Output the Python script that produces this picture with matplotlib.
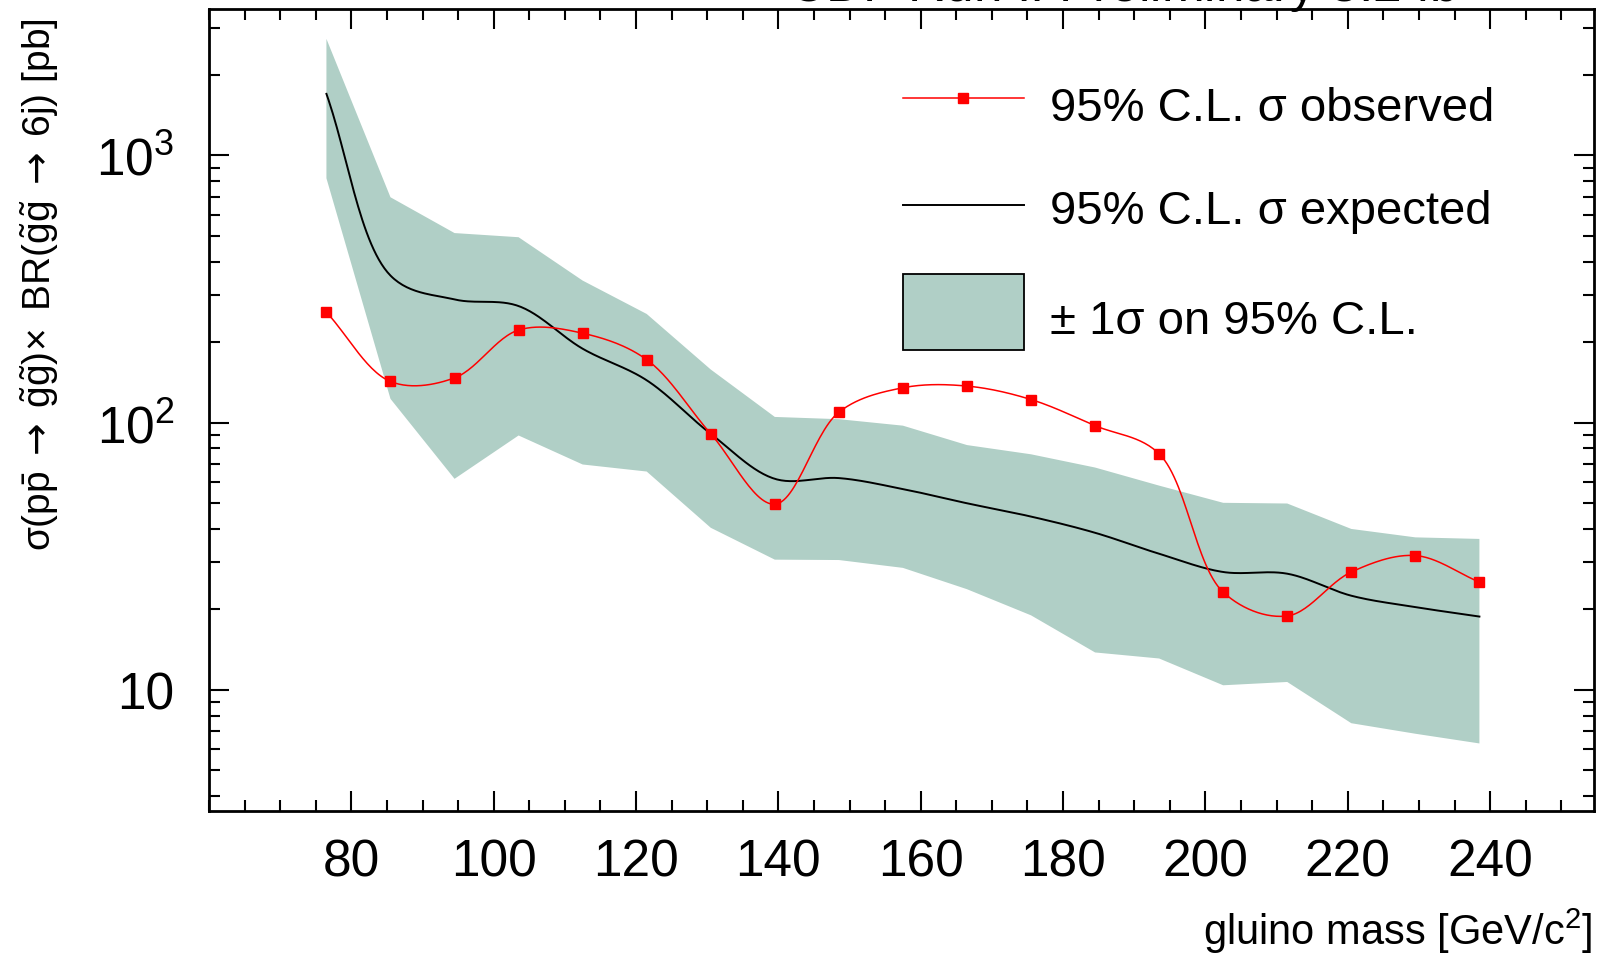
import numpy as np
import matplotlib
matplotlib.use("Agg")
import matplotlib.pyplot as plt
from matplotlib.lines import Line2D
from matplotlib.patches import Rectangle
from matplotlib.ticker import FixedLocator, MultipleLocator, LogLocator, FuncFormatter, NullFormatter

plt.rcParams['font.family'] = ['Liberation Sans', 'DejaVu Sans']
plt.rcParams['mathtext.fontset'] = 'custom'
plt.rcParams['mathtext.rm'] = 'Liberation Sans'
plt.rcParams['mathtext.it'] = 'Liberation Sans'
plt.rcParams['mathtext.sf'] = 'DejaVu Sans'
plt.rcParams['mathtext.bf'] = 'Liberation Sans:bold'

# gluino mass points [GeV/c^2] and 95% C.L. cross-section limits [pb]
gluino_mass = [76.5, 85.5, 94.5, 103.5, 112.5, 121.5, 130.5, 139.5, 148.5, 157.5,
               166.5, 175.5, 184.5, 193.5, 202.5, 211.5, 220.5, 229.5, 238.5]
sigma_observed = [259, 142.5, 147, 222, 216, 172, 90.8, 49.5, 109.4, 135,
                  137, 122, 97.4, 76.4, 23.2, 18.9, 27.6, 31.8, 25.3]
sigma_expected = [1699, 355, 289, 273, 189, 144, 90.8, 61.6, 62, 56.4,
                  49.9, 44.5, 38.7, 32.3, 27.6, 27.2, 22.5, 20.4, 18.8]
sigma_plus1 = [2729, 697, 512, 494, 340, 255, 158, 105, 103, 97.4,
               82.4, 76.1, 67.9, 58.1, 50.1, 49.8, 40.0, 37.2, 36.7]
sigma_minus1 = [821, 122.7, 61.6, 89.5, 69.7, 65.6, 40.4, 30.7, 30.6, 28.6,
                23.8, 19.0, 13.8, 13.1, 10.4, 10.7, 7.5, 6.85, 6.3]

x_ticks = [80, 100, 120, 140, 160, 180, 200, 220, 240]
y_tick_text = {10: '10', 100: r'$10^{2}$', 1000: r'$10^{3}$'}

legend_labels = ['95% C.L. σ observed', '95% C.L. σ expected', '± 1σ on 95% C.L.']
title_text = r'CDF Run II Preliminary 3.2 fb$^{-1}$'
x_title = r'gluino mass [GeV/c$^{2}$]'
y_title = (r'$\sigma(p\bar{p}\;\mathsf{\rightarrow}\;\tilde{g}\tilde{g})\!\times$ '
           r'BR$(\tilde{g}\tilde{g}\;\mathsf{\rightarrow}\;$6j) [pb]')

BAND = '#b0cfc6'
W, H = 1601, 954


def fx(px):
    return px / W


def fy(py):
    return 1 - py / H


def catmull_rom(P, n=30, alpha=0.5):
    P = np.asarray(P, dtype=float)
    Q = np.vstack([2 * P[0] - P[1], P, 2 * P[-1] - P[-2]])
    out = [P[0]]
    for i in range(1, len(Q) - 2):
        a, b, c, d = Q[i - 1], Q[i], Q[i + 1], Q[i + 2]
        t0 = 0.0
        t1 = t0 + max(np.linalg.norm(b - a), 1e-6) ** alpha
        t2 = t1 + max(np.linalg.norm(c - b), 1e-6) ** alpha
        t3 = t2 + max(np.linalg.norm(d - c), 1e-6) ** alpha
        t = np.linspace(t1, t2, n)[1:, None]
        A1 = (t1 - t) / (t1 - t0) * a + (t - t0) / (t1 - t0) * b
        A2 = (t2 - t) / (t2 - t1) * b + (t - t1) / (t2 - t1) * c
        A3 = (t3 - t) / (t3 - t2) * c + (t - t2) / (t3 - t2) * d
        B1 = (t2 - t) / (t2 - t0) * A1 + (t - t0) / (t2 - t0) * A2
        B2 = (t3 - t) / (t3 - t1) * A2 + (t - t1) / (t3 - t1) * A3
        C = (t2 - t) / (t2 - t1) * B1 + (t - t1) / (t2 - t1) * B2
        out.extend(C)
    return np.array(out)


def smooth_curve(ax, x, y):
    # spline drawn in screen space, like a graph drawn with a smooth option
    pts = ax.transData.transform(np.column_stack([x, y]))
    sm = catmull_rom(pts)
    back = ax.transData.inverted().transform(sm)
    return back[:, 0], back[:, 1]


fig = plt.figure(figsize=(W / 100, H / 100), dpi=100)
ax = fig.add_axes([fx(209), fy(812), fx(1594) - fx(209), fy(10) - fy(812)])
ax.set_yscale('log')
ax.set_xlim(60, 254.6)
ax.set_ylim(3.52, 3530)

# +-1 sigma band
ax.fill_between(gluino_mass, sigma_minus1, sigma_plus1, facecolor=BAND,
                edgecolor='none', linewidth=0, zorder=1)

ex, ey = smooth_curve(ax, gluino_mass, sigma_expected)
ax.plot(ex, ey, color='black', lw=1.4, zorder=2)

ox, oy = smooth_curve(ax, gluino_mass, sigma_observed)
ax.plot(ox, oy, color='red', lw=1.1, zorder=3)
ax.plot(gluino_mass, sigma_observed, ls='none', marker='s', ms=7,
        color='red', mec='red', zorder=4)

# axes styling
for s in ax.spines.values():
    s.set_linewidth(2.0)
ax.xaxis.set_major_locator(FixedLocator(x_ticks))
ax.xaxis.set_minor_locator(MultipleLocator(5))
ax.yaxis.set_major_locator(LogLocator(base=10))
ax.yaxis.set_minor_locator(LogLocator(base=10, subs=np.arange(2, 10)))
ax.yaxis.set_major_formatter(FuncFormatter(lambda v, p: y_tick_text.get(int(round(v)), '')))
ax.yaxis.set_minor_formatter(NullFormatter())
ax.tick_params(which='both', direction='in', top=True, right=True, width=1.5)
ax.tick_params(which='major', length=14.4)
ax.tick_params(which='minor', length=7.9)
ax.tick_params(axis='x', which='major', labelsize=37, pad=19)
ax.tick_params(axis='y', which='major', labelsize=37, pad=25)

# axis titles
fig.text(fx(1592), fy(931), x_title, ha='right', va='center', fontsize=30)
fig.text(fx(40), fy(18), y_title, ha='center', va='top', rotation=90, fontsize=28)

# experiment label across the top edge
fig.text(fx(788), fy(2), title_text, ha='left', va='baseline', fontsize=37)

# legend
fig.add_artist(Line2D([fx(903), fx(1024)], [fy(99), fy(99)], color='red', lw=1.1,
                      transform=fig.transFigure))
fig.add_artist(Line2D([fx(963)], [fy(99)], marker='s', ms=7, color='red', ls='none',
                      transform=fig.transFigure))
fig.add_artist(Line2D([fx(903), fx(1024)], [fy(206), fy(206)], color='black', lw=1.4,
                      transform=fig.transFigure))
fig.add_artist(Rectangle((fx(903), fy(351)), fx(1024) - fx(903), fy(275) - fy(351),
                         facecolor=BAND, edgecolor='black', lw=1.3,
                         transform=fig.transFigure))
for yy, lab in zip([109, 212, 322], legend_labels):
    fig.text(fx(1050), fy(yy), lab, ha='left', va='center', fontsize=34)

fig.savefig('out.png', dpi=100)
